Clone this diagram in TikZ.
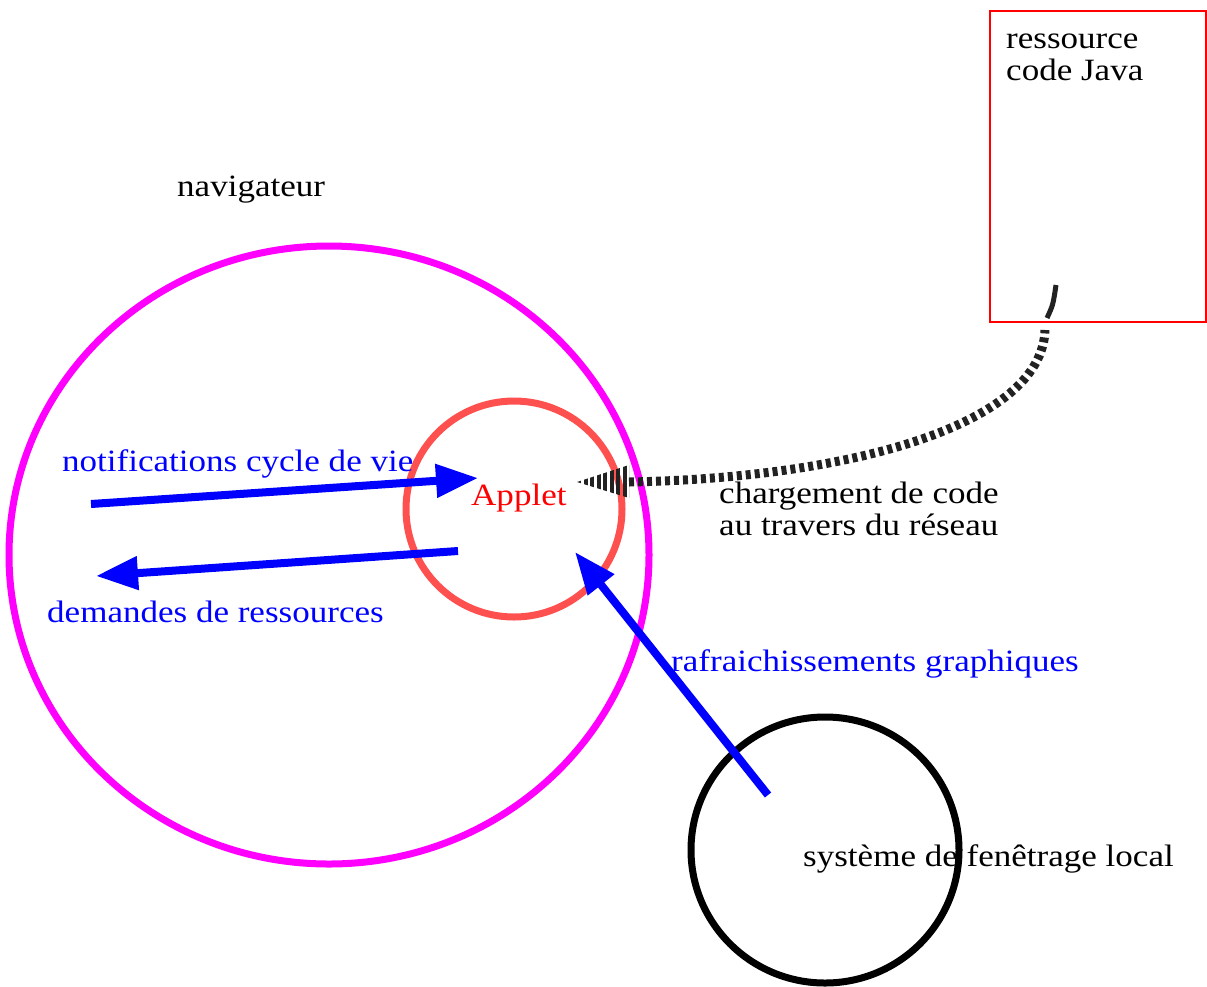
\documentclass[tikz,border=0pt]{standalone}
\usepackage{fontspec}
\setmainfont{Liberation Serif}[FakeStretch=1.13]
\usetikzlibrary{arrows.meta}
\definecolor{ringred}{HTML}{FF5050}
\definecolor{navmag}{HTML}{FF00FF}
\definecolor{pureblue}{HTML}{0000FF}
\definecolor{purered}{HTML}{FF0000}
\definecolor{stripe}{HTML}{222222}
\tikzset{
  lbl/.style={anchor=base west, inner sep=0pt, font=\fontsize{31}{32}\selectfont, align=left},
  bluelbl/.style={lbl, text=pureblue},
  flow/.style={draw=pureblue, line width=8pt, -{Triangle[length=42pt,width=32pt]}},
  ring/.style={line width=7pt},
}
\begin{document}
\begin{tikzpicture}[x=1pt,y=-1pt]
\useasboundingbox (0,0) rectangle (1207,986);

% browser, applet and local window system
\draw[ring, draw=navmag] (329,555) ellipse [x radius=320, y radius=309];
\draw[ring, draw=ringred] (514,509) circle [radius=108];
\draw[ring, draw=black] (825,850) ellipse [x radius=134, y radius=133];

% resource box
\draw[purered, line width=2pt] (990,11) rectangle (1206,322);
\node[lbl] (res) at (1006,80) {ressource\\code Java};

% labels
\node[lbl] (nav) at (177,196) {navigateur};
\node[lbl, text=purered] (applet) at (471,505) {Applet};
\node[bluelbl] (notif) at (62,471) {notifications cycle de vie};
\node[bluelbl] (dem) at (47,622) {demandes de ressources};
\node[bluelbl] (rafr) at (671,671) {rafraichissements graphiques};
\node[lbl] (sys) at (803,866) {système de fenêtrage local};
\node[lbl] (charg) at (719,535) {chargement de code\\au travers du réseau};

% arrow end points
\coordinate (n0) at (91,504);
\coordinate (n1) at (478,478);
\coordinate (d0) at (458,551);
\coordinate (d1) at (96,576);
\coordinate (r0) at (768,795);
\coordinate (r1) at (575,552);
\draw[flow] (n0) -- (n1);
\draw[flow] (d0) -- (d1);
\draw[flow] (r0) -- (r1);

% code loading over the network: striped wedge then dashed curve
\coordinate (w0) at (577,482);
\coordinate (w1) at (629,482);
\coordinate (c1) at (1045,330);
\coordinate (c2) at (1056,285);
\begin{scope}
  \clip (w0) -- (629,465) -- (629,498) -- cycle;
  \foreach \i in {0,...,8} {
    \fill[stripe] ({577+\i*6.5},460) rectangle ({581+\i*6.5},500);
  }
\end{scope}
\draw[stripe, line width=9pt, dash pattern=on 5pt off 4pt]
  (w1) .. controls (850,478) and (1042,425) .. (c1);
\draw[stripe, line width=5pt] (1047,318) .. controls (1053,305) .. (c2);
\end{tikzpicture}
\end{document}
